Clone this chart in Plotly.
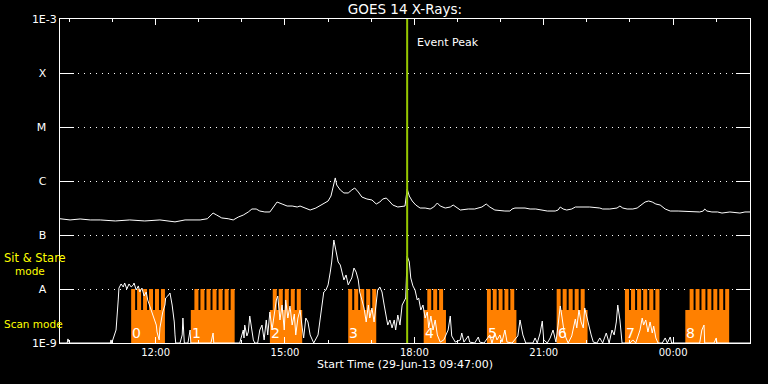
import math
import pandas as pd
import plotly.graph_objects as go

START = pd.Timestamp("2013-06-29 09:47:00")
SPAN_MIN = 960

# GOES 14 long channel (1-8 A): minutes after start, flux (W/m^2)
long_t = [0, 14, 28, 42, 56, 77, 97, 118, 139, 160, 174, 195, 205, 210, 213, 218, 225, 234, 241, 248,
          255, 262, 267, 273, 278, 285, 292, 298, 302, 309, 316, 323, 330, 334, 338, 348, 356, 365, 373, 377,
          380, 383, 385, 390, 395, 401, 406, 410, 415, 420, 427, 434, 440, 445, 449, 454, 458, 463, 470, 480,
          483, 486, 490, 495, 501, 508, 515, 520, 525, 529, 536, 543, 547, 551, 557, 568, 577, 587, 593, 598,
          605, 619, 626, 629, 633, 647, 654, 662, 668, 678, 689, 693, 696, 700, 705, 712, 717, 737, 751, 755,
          765, 775, 779, 783, 789, 797, 803, 808, 814, 819, 824, 829, 835, 842, 849, 860, 877, 890, 895, 897,
          900, 907, 915, 921, 932, 946, 953, 960]
long_flux = [2.0e-7, 1.90e-7, 1.98e-7, 1.90e-7, 1.90e-7, 1.82e-7, 1.90e-7, 1.82e-7, 1.90e-7, 1.75e-7,
             1.90e-7, 1.90e-7, 2.0e-7, 2.34e-7, 2.55e-7, 2.34e-7, 2.07e-7, 2.0e-7, 1.90e-7, 2.15e-7,
             2.34e-7, 2.67e-7, 3.03e-7, 3.03e-7, 2.78e-7, 2.67e-7, 2.67e-7, 3.44e-7, 4.08e-7, 3.75e-7,
             3.44e-7, 3.44e-7, 3.30e-7, 3.44e-7, 3.30e-7, 2.90e-7, 3.16e-7, 3.75e-7, 4.26e-7, 5.27e-7,
             7.42e-7, 1.14e-6, 8.43e-7, 6.81e-7, 6.00e-7, 6.00e-7, 6.81e-7, 7.42e-7, 6.26e-7, 5.05e-7,
             4.64e-7, 4.45e-7, 3.75e-7, 4.08e-7, 4.64e-7, 4.84e-7, 4.26e-7, 3.59e-7, 3.30e-7, 3.44e-7,
             7.11e-7, 5.27e-7, 4.26e-7, 3.59e-7, 3.16e-7, 3.16e-7, 3.03e-7, 3.30e-7, 3.91e-7, 3.44e-7,
             3.16e-7, 3.30e-7, 3.59e-7, 3.30e-7, 2.90e-7, 3.03e-7, 3.03e-7, 3.30e-7, 3.75e-7, 3.30e-7,
             2.90e-7, 2.78e-7, 2.78e-7, 3.03e-7, 3.16e-7, 3.16e-7, 3.03e-7, 3.03e-7, 2.90e-7, 2.78e-7,
             2.78e-7, 2.90e-7, 3.30e-7, 3.03e-7, 2.90e-7, 3.03e-7, 3.30e-7, 3.30e-7, 3.16e-7, 3.03e-7,
             3.03e-7, 3.16e-7, 3.44e-7, 3.16e-7, 3.03e-7, 3.03e-7, 3.16e-7, 3.59e-7, 4.08e-7, 4.26e-7,
             4.08e-7, 3.75e-7, 3.59e-7, 3.03e-7, 2.78e-7, 2.78e-7, 2.67e-7, 2.67e-7, 2.78e-7, 3.03e-7,
             2.78e-7, 2.67e-7, 2.67e-7, 2.55e-7, 2.67e-7, 2.55e-7, 2.67e-7, 2.67e-7]

# GOES 14 short channel (0.5-4 A): minutes after start, flux (W/m^2)
short_t = [0, 10, 11, 13, 70, 71, 72, 78, 81, 82, 85, 88, 90, 93, 96, 99, 102, 103, 106, 109,
           111, 114, 117, 120, 122, 125, 128, 131, 134, 135, 138, 139, 141, 143, 146, 147, 150, 153, 156, 159,
           160, 161, 167, 170, 171, 173, 178, 181, 182, 210, 213, 214, 250, 253, 255, 256, 257, 260, 262, 264,
           267, 269, 271, 275, 278, 281, 284, 287, 289, 292, 295, 298, 301, 303, 306, 309, 312, 314, 317, 320,
           323, 326, 328, 331, 334, 337, 339, 342, 345, 348, 351, 353, 359, 362, 365, 367, 370, 373, 376, 378,
           381, 384, 387, 390, 392, 395, 398, 401, 403, 406, 409, 412, 415, 417, 420, 423, 426, 429, 431, 434,
           437, 440, 442, 445, 448, 451, 454, 456, 459, 462, 465, 467, 470, 473, 476, 479, 481, 483, 486, 488,
           491, 494, 497, 499, 502, 505, 508, 511, 513, 516, 519, 522, 525, 529, 534, 540, 543, 545, 550, 557,
           559, 562, 568, 570, 577, 582, 584, 590, 598, 601, 605, 608, 612, 615, 619, 622, 629, 637, 640, 644,
           648, 658, 661, 664, 668, 671, 673, 678, 682, 686, 690, 693, 696, 698, 701, 704, 707, 712, 717, 719,
           722, 725, 728, 730, 733, 736, 739, 742, 747, 751, 755, 760, 764, 768, 771, 774, 776, 779, 782, 793,
           797, 801, 807, 810, 812, 815, 818, 821, 824, 826, 829, 832, 838, 842, 845, 849, 851, 890, 893, 896,
           897, 910, 913, 914, 960]
short_flux = [1.0e-9, 1.0e-9, 1.19e-9, 1.0e-9, 1.0e-9, 1.14e-9, 1.0e-9, 1.74e-9, 6.26e-9, 1.04e-8,
              1.24e-8, 1.09e-8, 1.29e-8, 1.0e-8, 1.24e-8, 1.09e-8, 1.19e-8, 1.29e-8, 9.58e-9, 1.14e-8,
              8.80e-9, 1.04e-8, 7.42e-9, 8.80e-9, 6.26e-9, 4.84e-9, 3.75e-9, 2.90e-9, 2.15e-9, 1.60e-9,
              1.14e-9, 1.90e-9, 2.67e-9, 3.75e-9, 5.05e-9, 6.81e-9, 7.42e-9, 8.43e-9, 5.05e-9, 2.45e-9,
              1.41e-9, 1.0e-9, 1.0e-9, 1.41e-9, 2.90e-9, 1.0e-9, 1.0e-9, 1.74e-9, 1.0e-9, 1.0e-9,
              1.53e-9, 1.0e-9, 1.0e-9, 1.35e-9, 1.74e-9, 1.24e-9, 2.15e-9, 1.35e-9, 1.60e-9, 3.16e-9,
              1.74e-9, 1.14e-9, 1.0e-9, 1.0e-9, 1.74e-9, 2.15e-9, 1.14e-9, 2.67e-9, 1.41e-9, 3.75e-9,
              1.74e-9, 3.30e-9, 6.26e-9, 7.42e-9, 2.67e-9, 5.05e-9, 1.74e-9, 6.26e-9, 2.90e-9, 4.84e-9,
              2.15e-9, 3.44e-9, 1.41e-9, 2.90e-9, 4.08e-9, 1.90e-9, 1.24e-9, 2.90e-9, 2.45e-9, 1.41e-9,
              1.14e-9, 1.0e-9, 1.41e-9, 2.67e-9, 5.05e-9, 8.80e-9, 9.58e-9, 1.19e-8, 2.06e-8, 3.16e-8,
              8.08e-8, 4.84e-8, 3.16e-8, 2.78e-8, 2.06e-8, 1.47e-8, 1.82e-8, 1.19e-8, 1.35e-8, 1.60e-8,
              2.45e-8, 2.06e-8, 1.47e-8, 8.80e-9, 6.26e-9, 4.45e-9, 2.45e-9, 5.05e-9, 2.90e-9, 4.45e-9,
              2.45e-9, 6.26e-9, 9.58e-9, 1.09e-8, 8.80e-9, 5.05e-9, 2.90e-9, 2.15e-9, 2.67e-9, 1.90e-9,
              2.67e-9, 1.74e-9, 3.30e-9, 2.15e-9, 5.05e-9, 6.26e-9, 6.81e-9, 4.08e-8, 3.16e-8, 1.60e-8,
              1.14e-8, 9.58e-9, 6.26e-9, 6.81e-9, 4.08e-9, 5.05e-9, 2.90e-9, 3.75e-9, 1.90e-9, 3.16e-9,
              1.74e-9, 2.67e-9, 1.41e-9, 1.04e-9, 1.14e-9, 1.74e-9, 3.16e-9, 1.35e-9, 1.04e-9, 1.14e-9,
              1.53e-9, 1.04e-9, 1.35e-9, 1.04e-9, 1.0e-9, 1.29e-9, 1.04e-9, 1.0e-9, 1.41e-9, 1.0e-9,
              1.53e-9, 1.14e-9, 1.41e-9, 1.04e-9, 1.74e-9, 1.04e-9, 1.0e-9, 1.35e-9, 2.67e-9, 1.41e-9,
              1.0e-9, 1.0e-9, 1.24e-9, 1.0e-9, 1.53e-9, 2.55e-9, 1.14e-9, 1.0e-9, 1.24e-9, 1.74e-9,
              1.04e-9, 2.15e-9, 4.84e-9, 3.30e-9, 1.74e-9, 1.24e-9, 1.0e-9, 1.35e-9, 2.78e-9, 1.90e-9,
              4.08e-9, 2.45e-9, 1.90e-9, 4.45e-9, 2.90e-9, 2.15e-9, 1.41e-9, 1.04e-9, 1.0e-9, 1.24e-9,
              1.0e-9, 1.53e-9, 1.0e-9, 1.74e-9, 1.41e-9, 2.45e-9, 5.05e-9, 2.67e-9, 1.0e-9, 1.0e-9,
              1.14e-9, 1.0e-9, 1.74e-9, 2.90e-9, 2.15e-9, 2.67e-9, 1.60e-9, 2.45e-9, 1.53e-9, 2.06e-9,
              1.24e-9, 1.0e-9, 1.0e-9, 1.24e-9, 1.0e-9, 1.29e-9, 1.0e-9, 1.0e-9, 1.74e-9, 2.15e-9,
              1.0e-9, 1.0e-9, 1.24e-9, 1.0e-9, 1.0e-9]

# Scan-mode intervals (minutes after start)
scan_labels = ["0", "1", "2", "3", "4", "5", "6", "7", "8"]
scan_start = [99, 182, 292, 401, 506, 594, 691, 786, 870]
scan_end = [146, 243, 337, 440, 537, 635, 734, 834, 931]
scan_sub_start = [99, 187, 296, 401, 511, 594, 691, 786, 876]
scan_sub_end = [146, 243, 335, 440, 533, 632, 730, 834, 931]
scan_sub_count = [6, 7, 5, 5, 3, 5, 5, 6, 7]
SCAN_BASE_LEVEL = 4.1e-9
SCAN_TOP_LEVEL = 1e-8
FLOOR = 1e-9

event_peak_min = 483

y_tickvals = [1e-9, 1e-8, 1e-7, 1e-6, 1e-5, 1e-4, 1e-3]
y_ticktext = ["1E-9", "A", "B", "C", "M", "X", "1E-3"]

FONT = "DejaVu Sans"
ORANGE = "#ff8000"


def tm(m):
    return START + pd.Timedelta(minutes=m)


# orange scan-mode blocks as filled polygons in data coordinates
bx, by = [], []


def add_rect(m0, m1, top):
    bx.extend([tm(m0), tm(m1), tm(m1), tm(m0), tm(m0), None])
    by.extend([FLOOR, FLOOR, top, top, FLOOR, None])


for i in range(len(scan_labels)):
    add_rect(scan_start[i], scan_end[i], SCAN_BASE_LEVEL)
    n = scan_sub_count[i]
    period = (scan_sub_end[i] - scan_sub_start[i]) / (n - 1.0 / 3.0)
    for k in range(n):
        a = scan_sub_start[i] + k * period
        add_rect(a, a + period * 2.0 / 3.0, SCAN_TOP_LEVEL)

fig = go.Figure()
fig.add_trace(go.Scatter(x=bx, y=by, mode="lines", fill="toself", fillcolor=ORANGE,
                         line=dict(width=0, color=ORANGE), hoverinfo="skip", showlegend=False))
fig.add_trace(go.Scatter(x=[tm(m) for m in long_t], y=long_flux, mode="lines",
                         line=dict(color="white", width=1), showlegend=False))
fig.add_trace(go.Scatter(x=[tm(m) for m in short_t], y=short_flux, mode="lines",
                         line=dict(color="white", width=1), showlegend=False))

shapes = []
annotations = []
for i, lab in enumerate(scan_labels):
    annotations.append(dict(x=tm(scan_start[i]), y=0.031, xref="x", yref="paper", text=lab,
                            showarrow=False, xanchor="left", yanchor="middle", xshift=-1,
                            font=dict(family=FONT, size=14, color="white")))

shapes.append(dict(type="line", xref="x", yref="paper", x0=tm(event_peak_min), x1=tm(event_peak_min),
                   y0=0, y1=1, line=dict(color="#96c800", width=2), layer="above"))
annotations.append(dict(x=tm(event_peak_min), y=0.926, xref="x", yref="paper", text="Event Peak",
                        showarrow=False, xanchor="left", yanchor="middle", xshift=8,
                        font=dict(family=FONT, size=11, color="white")))

yellow = dict(family=FONT, size=10.5, color="#ffff00")
annotations.append(dict(x=-0.084, y=0.262, xref="paper", yref="paper", text="Sit & Stare",
                        showarrow=False, xanchor="left", yanchor="middle",
                        font=dict(family=FONT, size=11.5, color="#ffff00")))
annotations.append(dict(x=-0.068, y=0.222, xref="paper", yref="paper", text="mode",
                        showarrow=False, xanchor="left", yanchor="middle", font=yellow))
annotations.append(dict(x=-0.084, y=0.059, xref="paper", yref="paper", text="Scan mode",
                        showarrow=False, xanchor="left", yanchor="middle", font=yellow))

pad = "\u00a0\u00a0\u00a0"
ytext = [t if t.startswith("1E") else t + pad for t in y_ticktext]

fig.update_layout(
    width=768, height=384,
    margin=dict(l=60, r=18, t=19, b=41, autoexpand=False),
    paper_bgcolor="black", plot_bgcolor="black",
    font=dict(family=FONT, color="white", size=10),
    title=dict(text="GOES 14 X-Rays:", x=0.5, xref="paper", y=1 - 9 / 384, yref="container",
               xanchor="center", yanchor="middle", font=dict(family=FONT, size=13.5, color="white")),
    shapes=shapes, annotations=annotations,
    showlegend=False,
)
fig.update_xaxes(
    type="date", range=[tm(0), tm(SPAN_MIN)], automargin=False,
    showline=True, linecolor="white", linewidth=1, mirror="ticks",
    ticks="inside", ticklen=6, tickcolor="white", tickwidth=1,
    dtick=3 * 3600 * 1000, tick0="2013-06-29 00:00:00", tickformat="%H:%M",
    tickfont=dict(family=FONT, size=10, color="white"),
    showgrid=False, zeroline=False,
    minor=dict(dtick=3600 * 1000, ticklen=3, tickcolor="white", ticks="inside", showgrid=False),
    title=dict(text="Start Time (29-Jun-13 09:47:00)", standoff=2,
               font=dict(family=FONT, size=11, color="white")),
)
fig.update_yaxes(
    type="log", range=[-9, -3], automargin=False,
    showline=True, linecolor="white", linewidth=1, mirror="ticks",
    ticks="inside", ticklen=14, tickcolor="white", tickwidth=1,
    tickvals=y_tickvals, ticktext=ytext,
    tickfont=dict(family=FONT, size=11, color="white"),
    showgrid=True, gridcolor="white", gridwidth=1, griddash="1px,5px",
    zeroline=False,
)

fig.write_html("out.html", config={"displayModeBar": False},
               post_script="document.body.style.margin='0';document.body.style.background='black';")
